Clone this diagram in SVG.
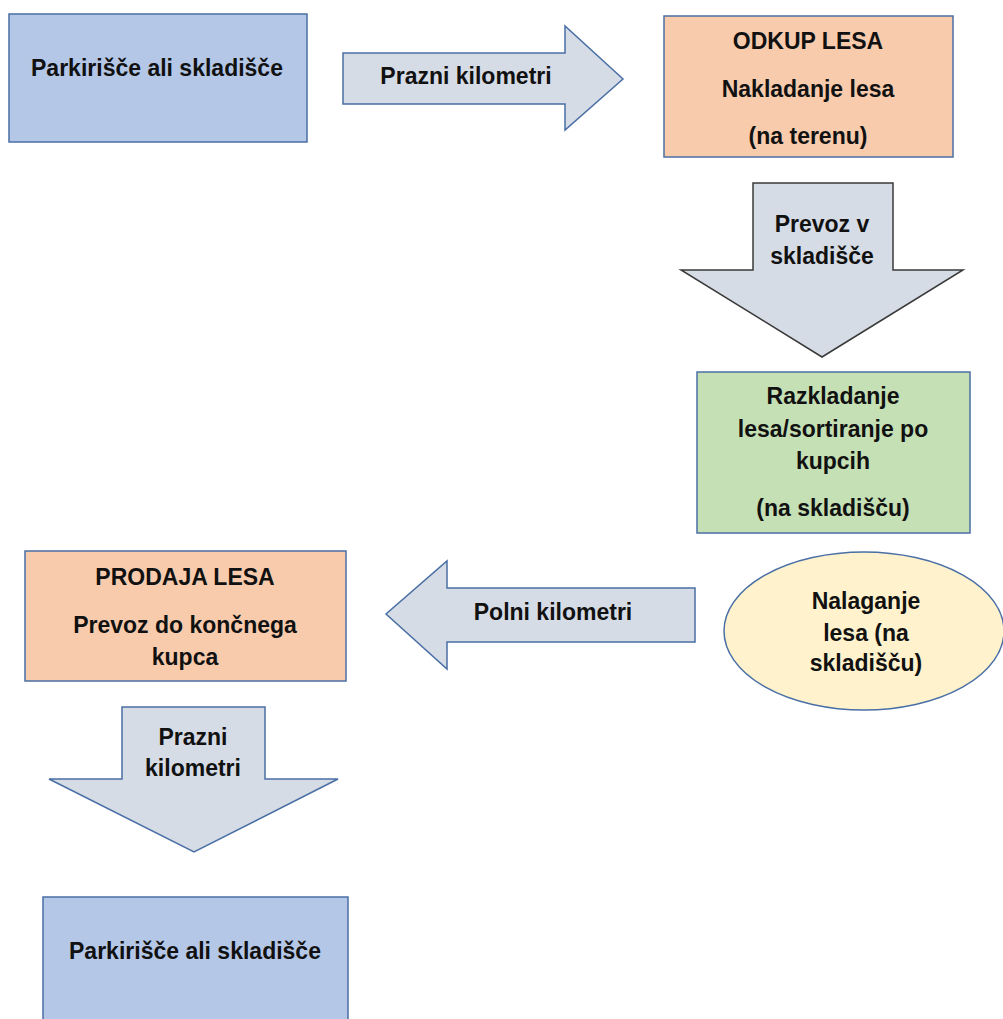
<svg xmlns="http://www.w3.org/2000/svg" width="1003" height="1019" viewBox="0 0 1003 1019">
<style>
text{font-family:"Liberation Sans",Arial,sans-serif;font-weight:bold;font-size:23px;fill:#111;text-anchor:middle;dominant-baseline:central}
.blue{fill:#b4c7e7;stroke:#4a6fa5;stroke-width:1.5}
.orange{fill:#f8cbad;stroke:#4a6fa5;stroke-width:1.5}
.green{fill:#c5e0b4;stroke:#4a6fa5;stroke-width:1.5}
.yellow{fill:#fff2cc;stroke:#4a6fa5;stroke-width:1.5}
.arr{fill:#d6dce5;stroke:#4a6fa5;stroke-width:1.5;stroke-linejoin:miter}
.arrd{fill:#d6dce5;stroke:#3a3a3a;stroke-width:1.5}
</style>
<rect width="1003" height="1019" fill="#ffffff"/>
<g id="connectors">
  <g id="arrow-prazni-1">
    <polygon class="arr" points="343,53 565,53 565,26 623,79 565,130 565,104 343,104"/>
    <text x="466" y="76">Prazni kilometri</text>
  </g>
  <g id="arrow-prevoz">
    <polygon class="arrd" points="753,183 893,183 893,270 963,270 822,357 681,270 753,270"/>
    <text x="822" y="224">Prevoz v</text>
    <text x="822" y="256">skladišče</text>
  </g>
  <g id="arrow-polni">
    <polygon class="arr" points="695,588 447,588 447,561 386,614 447,669 447,642 695,642"/>
    <text x="553" y="612">Polni kilometri</text>
  </g>
  <g id="arrow-prazni-2">
    <polygon class="arr" points="122,707 265,707 265,779 338,779 194,852 49,779 122,779"/>
    <text x="193" y="737">Prazni</text>
    <text x="193" y="768">kilometri</text>
  </g>
</g>
<g id="node-parkirisce-1">
  <rect class="blue" x="9" y="14" width="298" height="128"/>
  <text x="157" y="68">Parkirišče ali skladišče</text>
</g>
<g id="node-odkup">
  <rect class="orange" x="664" y="16" width="289" height="141"/>
  <text x="808" y="41">ODKUP LESA</text>
  <text x="808" y="89">Nakladanje lesa</text>
  <text x="808" y="136">(na terenu)</text>
</g>
<g id="node-razkladanje">
  <rect class="green" x="697" y="372" width="273" height="161"/>
  <text x="833" y="396">Razkladanje</text>
  <text x="833" y="429">lesa/sortiranje po</text>
  <text x="833" y="461">kupcih</text>
  <text x="833" y="508">(na skladišču)</text>
</g>
<g id="node-nalaganje">
  <ellipse class="yellow" cx="864" cy="631" rx="140" ry="79"/>
  <text x="866" y="601">Nalaganje</text>
  <text x="866" y="633">lesa (na</text>
  <text x="866" y="663">skladišču)</text>
</g>
<g id="node-prodaja">
  <rect class="orange" x="25" y="551" width="321" height="130"/>
  <text x="185" y="577">PRODAJA LESA</text>
  <text x="185" y="625">Prevoz do končnega</text>
  <text x="185" y="657">kupca</text>
</g>
<g id="node-parkirisce-2">
  <rect class="blue" x="43" y="897" width="305" height="140"/>
  <text x="195" y="951">Parkirišče ali skladišče</text>
</g>
</svg>
